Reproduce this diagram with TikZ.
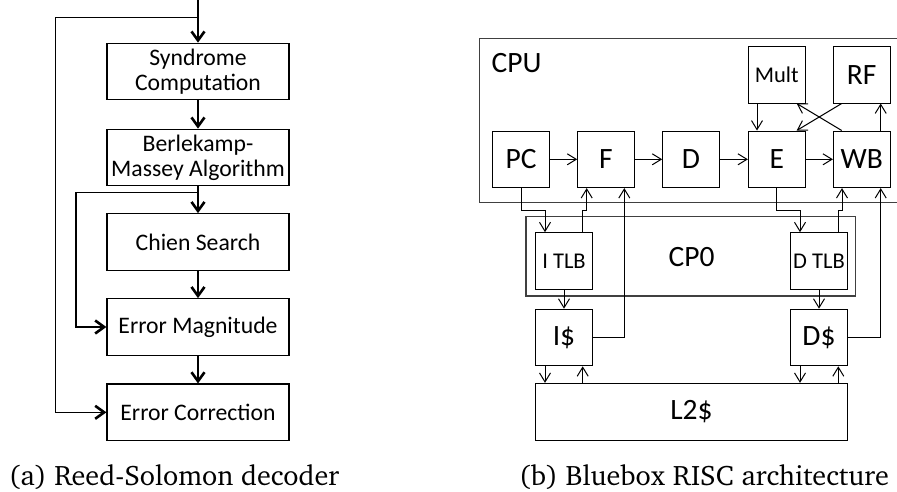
\documentclass[tikz,border=0pt]{standalone}
\usepackage[T1]{fontenc}
\usepackage{fontspec}
\setmainfont{Carlito}
\usetikzlibrary{arrows.meta,calc}
\newcommand{\capfont}{\fontencoding{T1}\fontfamily{bch}\selectfont}
\begin{document}
\begin{tikzpicture}[x=1pt,y=-1pt,
  lbox/.style={draw=black,line width=1.2pt,minimum width=182pt,minimum height=56.5pt,inner sep=0pt,align=center,font=\fontsize{23.7}{25}\selectfont},
  larrow/.style={line width=1.3pt,-{Straight Barb[length=9pt,width=13pt,line width=2.6pt]}},
  rbox/.style={draw=black,line width=1pt,minimum width=56.6pt,minimum height=56.6pt,inner sep=0pt,font=\fontsize{29.5}{30}\selectfont},
  sbox/.style={rbox,font=\fontsize{22.5}{23}\selectfont},
  rarrow/.style={line width=1pt,-{Straight Barb[length=9pt,width=11pt,line width=1pt]}},
  frame/.style={draw=black!75,line width=1.4pt},
  captext/.style={font=\capfont\fontsize{28.2}{30}\selectfont,inner sep=0pt,anchor=base}
]
\useasboundingbox (0,0) rectangle (897,491);
% ---------- (a) ----------
\coordinate (top) at (198,0);
\node[lbox] (syn) at (198,71.5) {Syndrome\\Computation};
\node[lbox] (bm) at (198,157.5) {Berlekamp-\\Massey Algorithm};
\node[lbox] (cs) at (198,242) {Chien Search};
\node[lbox] (em) at (198,327) {Error Magnitude};
\node[lbox] (ec) at (198,412.3) {Error Correction};
\coordinate (j1) at (198,17.5);
\coordinate (j2) at (198,192.5);
\coordinate (k1) at (55.7,17.5);
\coordinate (k2) at (76,192.5);
\draw[larrow] (top) -- (syn.north);
\draw[larrow] (syn.south) -- (bm.north);
\draw[larrow] (bm.south) -- (cs.north);
\draw[larrow] (cs.south) -- (em.north);
\draw[larrow] (em.south) -- (ec.north);
\draw[larrow] (j1) -- (k1) |- (ec.west);
\draw[larrow] (j2) -- (k2) |- (em.west);
% ---------- (b) ----------
\draw[frame] (905,38.3) -- (479.3,38.3) -- (479.3,202.5) -- (905,202.5);
\node[anchor=west,inner sep=0pt,font=\fontsize{29.5}{30}\selectfont] (cpu) at (491.5,63) {CPU};
\node[frame,minimum width=329.7pt,minimum height=79.3pt,inner sep=0pt] (cp0box) at (690.85,256.35) {};
\node[inner sep=0pt,font=\fontsize{29.5}{30}\selectfont] (cp0) at (691.7,256.7) {CP0};
\node[rbox] (pc) at (521,159.3) {PC};
\node[rbox] (f) at (606,159.3) {F};
\node[rbox] (d) at (691,159.3) {D};
\node[rbox] (e) at (776.7,159.3) {E};
\node[rbox] (wb) at (861.7,159.3) {WB};
\node[sbox] (mult) at (776.7,74.7) {Mult};
\node[rbox] (rf) at (861.7,74.7) {RF};
\node[sbox] (itlb) at (564,261) {I TLB};
\node[sbox] (dtlb) at (819,261) {D TLB};
\node[rbox] (ic) at (564,337.5) {I\$};
\node[rbox] (dc) at (819,337.5) {D\$};
\node[rbox,minimum width=311.6pt,minimum height=56.7pt] (l2) at (691.5,411.7) {L2\$};
\coordinate (ja) at (545,210.7);
\coordinate (jb) at (586.7,210.7);
\coordinate (jc) at (800,210.7);
\coordinate (jd) at (842,210.7);
% pipeline
\draw[rarrow] (pc) -- (f);
\draw[rarrow] (f) -- (d);
\draw[rarrow] (d) -- (e);
\draw[rarrow] (e) -- (wb);
\draw[rarrow] ([xshift=-19.7pt]mult.south) -- ([xshift=-19.7pt]e.north);
\draw[rarrow] ([xshift=-20pt]rf.south) -- ([xshift=20pt]e.north);
\draw[rarrow] ([xshift=-20pt]wb.north) -- ([xshift=20pt]mult.south);
\draw[rarrow] ([xshift=19pt]wb.north) -- ([xshift=19pt]rf.south);
% I side
\draw[rarrow] (pc.south) |- (ja) -- ([xshift=-19pt]itlb.north);
\draw[rarrow] ([xshift=18.7pt]itlb.north) |- (jb) -- ([xshift=-19.3pt]f.south);
\draw[rarrow] (ic.east) -| ([xshift=18.3pt]f.south);
\draw[rarrow] (itlb.south) -- (ic.north);
\draw[rarrow] ([xshift=-19pt]ic.south) -- ([xshift=-19pt]ic.south |- l2.north);
\draw[rarrow] ([xshift=18.7pt]ic.south |- l2.north) -- ([xshift=18.7pt]ic.south);
% D side
\draw[rarrow] ([xshift=-0.7pt]e.south) |- (jc) -- ([xshift=-19pt]dtlb.north);
\draw[rarrow] ([xshift=19.3pt]dtlb.north) |- (jd) -- ([xshift=-19.7pt]wb.south);
\draw[rarrow] (dc.east) -| ([xshift=19pt]wb.south);
\draw[rarrow] (dtlb.south) -- (dc.north);
\draw[rarrow] ([xshift=-19pt]dc.south) -- ([xshift=-19pt]dc.south |- l2.north);
\draw[rarrow] ([xshift=19.3pt]dc.south |- l2.north) -- ([xshift=19.3pt]dc.south);
% captions
\node[captext] (capa) at (174,485.7) {(a) Reed-Solomon decoder};
\node[captext] (capb) at (704,485.7) {(b) Bluebox RISC architecture};
\end{tikzpicture}
\end{document}
